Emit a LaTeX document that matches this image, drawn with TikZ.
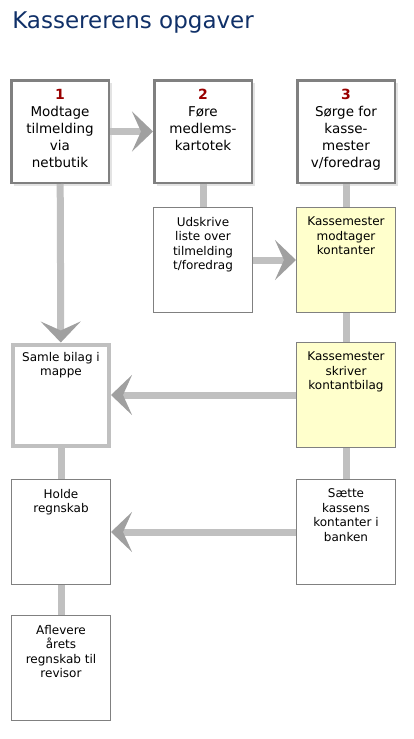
\documentclass[tikz,border=0pt]{standalone}
\usepackage{fontspec}
\setmainfont{DejaVu Sans}
\usetikzlibrary{arrows.meta,positioning,shadows}
\definecolor{titleblue}{RGB}{16,48,104}
\definecolor{numred}{RGB}{153,0,0}
\definecolor{framegray}{RGB}{128,128,128}
\definecolor{bargray}{RGB}{192,192,192}
\definecolor{tipgray}{RGB}{160,160,160}
\definecolor{notepale}{RGB}{255,255,204}
\newcommand{\boxtext}[2][5pt]{\parbox[c][96pt][t]{94pt}{\centering\vspace*{#1}#2}}

\begin{document}
\begin{tikzpicture}[x=1pt,y=1pt,semithick]
          \tikzstyle{task}=[draw=framegray,fill=white,line width=2.5pt,inner sep=0pt,minimum width=97.5pt,minimum height=102.5pt,font=\fontsize{13.5}{17}\selectfont,drop shadow={shadow xshift=3pt,shadow yshift=-3pt,fill=black!22}]
          \tikzstyle{sub}=[draw=framegray,fill=white,line width=1pt,inner sep=0pt,minimum width=99pt,minimum height=105pt,font=\fontsize{12}{14.5}\selectfont]
          \tikzstyle{cash}=[sub,fill=notepale]
          \tikzstyle{file}=[sub,draw=bargray,line width=4pt,minimum width=96pt,minimum height=101pt]
          \tikzstyle{bar}=[draw=bargray,line width=7pt]
          \tikzstyle{chev}=[bar,-{Stealth[length=21pt,width=40pt,inset=9pt,color=tipgray]}]
          \useasboundingbox (0,0) rectangle (414,-739);

          \node[anchor=base west,inner sep=0pt,text=titleblue,font=\fontsize{23}{28}\selectfont] (title) at (12,-28) {Kassererens opgaver};

          \node[task] (modtage) at (60,-131.5) {\boxtext[6pt]{{\fontsize{14}{17}\selectfont\bfseries\color{numred}1}\\Modtage\\tilmelding\\via\\netbutik}};
          \node[task,right=43pt of modtage]     (kartotek)    {\boxtext[6pt]{{\fontsize{14}{17}\selectfont\bfseries\color{numred}2}\\Føre\\medlems-\\kartotek}};
          \node[task,right=43pt of kartotek]    (kassemester) {\boxtext[6pt]{{\fontsize{14}{17}\selectfont\bfseries\color{numred}3}\\Sørge for\\kasse-\\mester\\v/foredrag}};
          \node[sub,below=23pt of kartotek]     (udskrive)    {\boxtext{Udskrive\\liste over\\tilmelding\\t/foredrag}};
          \node[cash,below=23pt of kassemester] (modtager)    {\boxtext{Kassemester\\modtager\\kontanter}};
          \node[cash,below=29pt of modtager]    (bilag)       {\boxtext{Kassemester\\skriver\\kontantbilag}};
          \node[file,left=185pt of bilag]       (samle)       {\boxtext{Samle bilag i\\mappe}};
          \node[sub,below=31pt of bilag]        (saette)      {\boxtext{Sætte\\kassens\\kontanter i\\banken}};
          \node[sub,left=185pt of saette]       (regnskab)    {\boxtext{Holde\\regnskab}};
          \node[sub,below=30pt of regnskab]     (aflevere)    {\boxtext{Aflevere\\årets\\regnskab til\\revisor}};

          \path (modtage)     edge[chev] (kartotek)
                              edge[chev] (samle)
                (kartotek)    edge[bar]  (udskrive)
                (kassemester) edge[bar]  (modtager)
                (udskrive)    edge[chev] (modtager)
                (modtager)    edge[bar]  (bilag)
                (bilag)       edge[chev] (samle)
                              edge[bar]  (saette)
                (saette)      edge[chev] (regnskab)
                (samle)       edge[bar]  (regnskab)
                (regnskab)    edge[bar]  (aflevere);
\end{tikzpicture}
\end{document}
